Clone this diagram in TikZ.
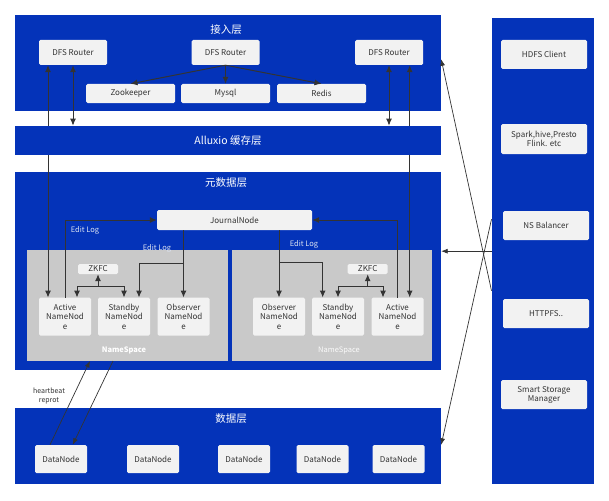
\documentclass[tikz,border=0pt]{standalone}
\usepackage{fontspec}
\setmainfont{Noto Sans CJK SC}
\usetikzlibrary{arrows.meta}
\definecolor{layerblue}{HTML}{0433B9}
\definecolor{boxgray}{HTML}{F2F2F2}
\definecolor{nsgray}{HTML}{C9C9C9}
\definecolor{linegray}{HTML}{333333}
\definecolor{loggray}{HTML}{DCE3F2}
\tikzset{
  >={Latex[length=7pt,width=6pt]},
  layer/.style={fill=layerblue,inner sep=0pt},
  layertitle/.style={text=white,font=\fontsize{10.5}{12}\selectfont},
  nsbox/.style={fill=nsgray,inner sep=0pt},
  box/.style={fill=boxgray,rounded corners=1.5pt,inner sep=0pt,align=center,
    text=linegray,font=\fontsize{8}{9.3}\selectfont},
  link/.style={draw=linegray,line width=1pt},
  thinlink/.style={draw=linegray,line width=0.7pt,>={Latex[length=6.5pt,width=5pt]}},
  loglabel/.style={text=loggray,font=\fontsize{7.5}{9}\selectfont},
}
\begin{document}
\begin{tikzpicture}[x=1pt,y=1pt,yscale=-1]
  \useasboundingbox (0,0) rectangle (609,500);
  % layers
  \node[layer,minimum width=426pt,minimum height=96pt] (access) at (228,63) {};
  \node[layer,minimum width=426pt,minimum height=198pt] (meta) at (228,270.8) {};
  \node[layer,minimum width=426pt,minimum height=76pt] (data) at (228,445.8) {};
  \node[layer,minimum width=102pt,minimum height=466pt] (client) at (542.7,251.2) {};
  \node[layertitle] (accessT) at (226,30) {接入层};
  \node[layertitle] (metaT) at (226,183) {元数据层};
  \node[layertitle] (dataT) at (231,419) {数据层};

  % access layer
  \node[box,minimum width=68pt,minimum height=25pt] (routerL) at (73,52.5) {DFS Router};
  \node[box,minimum width=68pt,minimum height=25pt] (routerM) at (225.5,52.5) {DFS Router};
  \node[box,minimum width=68pt,minimum height=25pt] (routerR) at (389,52.5) {DFS Router};
  \node[box,minimum width=89pt,minimum height=19pt] (zoo) at (130.5,93.5) {Zookeeper};
  \node[box,minimum width=89pt,minimum height=19pt] (mysql) at (225.5,93.5) {Mysql};
  \node[box,minimum width=89pt,minimum height=19pt] (redis) at (321.5,93.5) {Redis};
  \foreach \t in {zoo,mysql,redis}
    \draw[link,->] (routerM.south) -- (\t.north);

  % metadata layer
  \node[nsbox,minimum width=201pt,minimum height=111pt] (nsL) at (127.5,305.3) {};
  \node[nsbox,minimum width=200pt,minimum height=111pt] (nsR) at (332,305.3) {};
  \node[text=white,font=\fontsize{7.5}{9}\selectfont\bfseries] (nsLT) at (124,350.7) {NameSpace};
  \node[text=white!92!nsgray,font=\fontsize{7.5}{9}\selectfont] (nsRT) at (339,350.7) {NameSpace};
  \node[box,minimum width=155pt,minimum height=20pt] (journal) at (234.5,220) {JournalNode};
  \node[box,minimum width=52pt,minimum height=38pt] (activeL) at (65,316.7) {Active\\NameNod\\e};
  \node[box,minimum width=52pt,minimum height=38pt] (stbL) at (124,316.7) {Standby\\NameNod\\e};
  \node[box,minimum width=52pt,minimum height=38pt] (obsL) at (183.5,316.7) {Observer\\NameNod\\e};
  \node[box,minimum width=52pt,minimum height=38pt] (obsR) at (279,316.7) {Observer\\NameNod\\e};
  \node[box,minimum width=52pt,minimum height=38pt] (stbR) at (338,316.7) {Standby\\NameNod\\e};
  \node[box,minimum width=52pt,minimum height=38pt] (activeR) at (397.5,316.7) {Active\\NameNod\\e};
  \node[box,minimum width=40pt,minimum height=10pt] (zkL) at (98,269) {ZKFC};
  \node[box,minimum width=40pt,minimum height=10pt] (zkR) at (367.7,269) {ZKFC};

  % edit log
  \draw[link,->] (activeL.north) -- (activeL.north |- journal.west) -- (journal.west);
  \draw[link,->] (activeR.north) -- (activeR.north |- journal.east) -- (journal.east);
  \coordinate (jL) at (183.5,263);
  \coordinate (jR) at (279,262.7);
  \draw[link,->] (obsL.north |- journal.south) -- (obsL.north);
  \draw[link,->] (jL) -| ([xshift=15pt]stbL.north);
  \draw[link,->] (obsR.north |- journal.south) -- (obsR.north);
  \draw[link,->] (jR) -| ([xshift=-15.3pt]stbR.north);
  \node[loglabel] (logA) at (85,230) {Edit Log};
  \node[loglabel] (logB) at (157,248) {Edit Log};
  \node[loglabel] (logC) at (304,244) {Edit Log};

  % zkfc
  \coordinate (zkLj) at (98,286);
  \coordinate (zkRj) at (367.7,286);
  \draw[link,->] (zkLj) -- (zkL.south);
  \draw[link,->] (zkLj) -| ([xshift=12pt]activeL.north);
  \draw[link,->] (zkLj) -| (stbL.north);
  \draw[link,->] (zkRj) -- (zkR.south);
  \draw[link,->] (zkRj) -| (stbR.north);
  \draw[link,->] (zkRj) -| ([xshift=-14.5pt]activeR.north);

  % router links
  \draw[link,<->] ([xshift=-25pt]routerL.south) -- ([xshift=-25pt]routerL.south |- activeL.north);
  \draw[link,<->] (routerL.south) -- (routerL.south |- 0,125.7);
  \draw[link,<->] (routerR.south) -- (routerR.south |- 0,125.7);
  \draw[link,<->] ([xshift=20.7pt]routerR.south) -- ([xshift=20.7pt]routerR.south |- activeR.north);
  \node[layer,minimum width=426pt,minimum height=29.3pt,text=white,
    font=\fontsize{10.5}{12}\selectfont] (alluxio) at (228,140.3) {Alluxio 缓存层};

  % data layer
  \node[box,minimum width=52pt,minimum height=28pt] (dn1) at (61,459) {DataNode};
  \node[box,minimum width=52pt,minimum height=28pt] (dn2) at (153,459) {DataNode};
  \node[box,minimum width=52pt,minimum height=28pt] (dn3) at (244,459) {DataNode};
  \node[box,minimum width=52pt,minimum height=28pt] (dn4) at (322.5,459) {DataNode};
  \node[box,minimum width=52pt,minimum height=28pt] (dn5) at (398.5,459) {DataNode};
  \draw[thinlink,->] ([xshift=-11pt]dn1.north) -- ([xshift=-37.5pt]nsL.south);
  \draw[thinlink,->] ([xshift=-14.5pt]nsL.south) -- ([xshift=11.7pt]dn1.north);
  \node[align=center,text=linegray,font=\fontsize{7}{9}\selectfont] (hb) at (49,396) {heartbeat\\reprot};

  % client column
  \node[box,minimum width=86pt,minimum height=29pt] (hdfs) at (544,54.5) {HDFS Client};
  \node[box,minimum width=86pt,minimum height=30pt] (spark) at (544,139) {Spark,hive,Presto\\Flink. etc};
  \node[box,minimum width=86pt,minimum height=29pt] (nsb) at (546,225.5) {NS Balancer};
  \node[box,minimum width=86pt,minimum height=29pt] (httpfs) at (546,313.7) {HTTPFS..};
  \node[box,minimum width=86pt,minimum height=29pt] (ssm) at (544,394.7) {Smart Storage\\Manager};
  \draw[thinlink,->] ([yshift=39.5pt]client.west) -- ([yshift=-3.7pt]access.east);
  \draw[thinlink,->] (client.west) -- (client.west -| meta.east);
  \draw[thinlink,->] ([yshift=-32pt]client.west) -- ([yshift=-1pt]data.east);
\end{tikzpicture}
\end{document}
